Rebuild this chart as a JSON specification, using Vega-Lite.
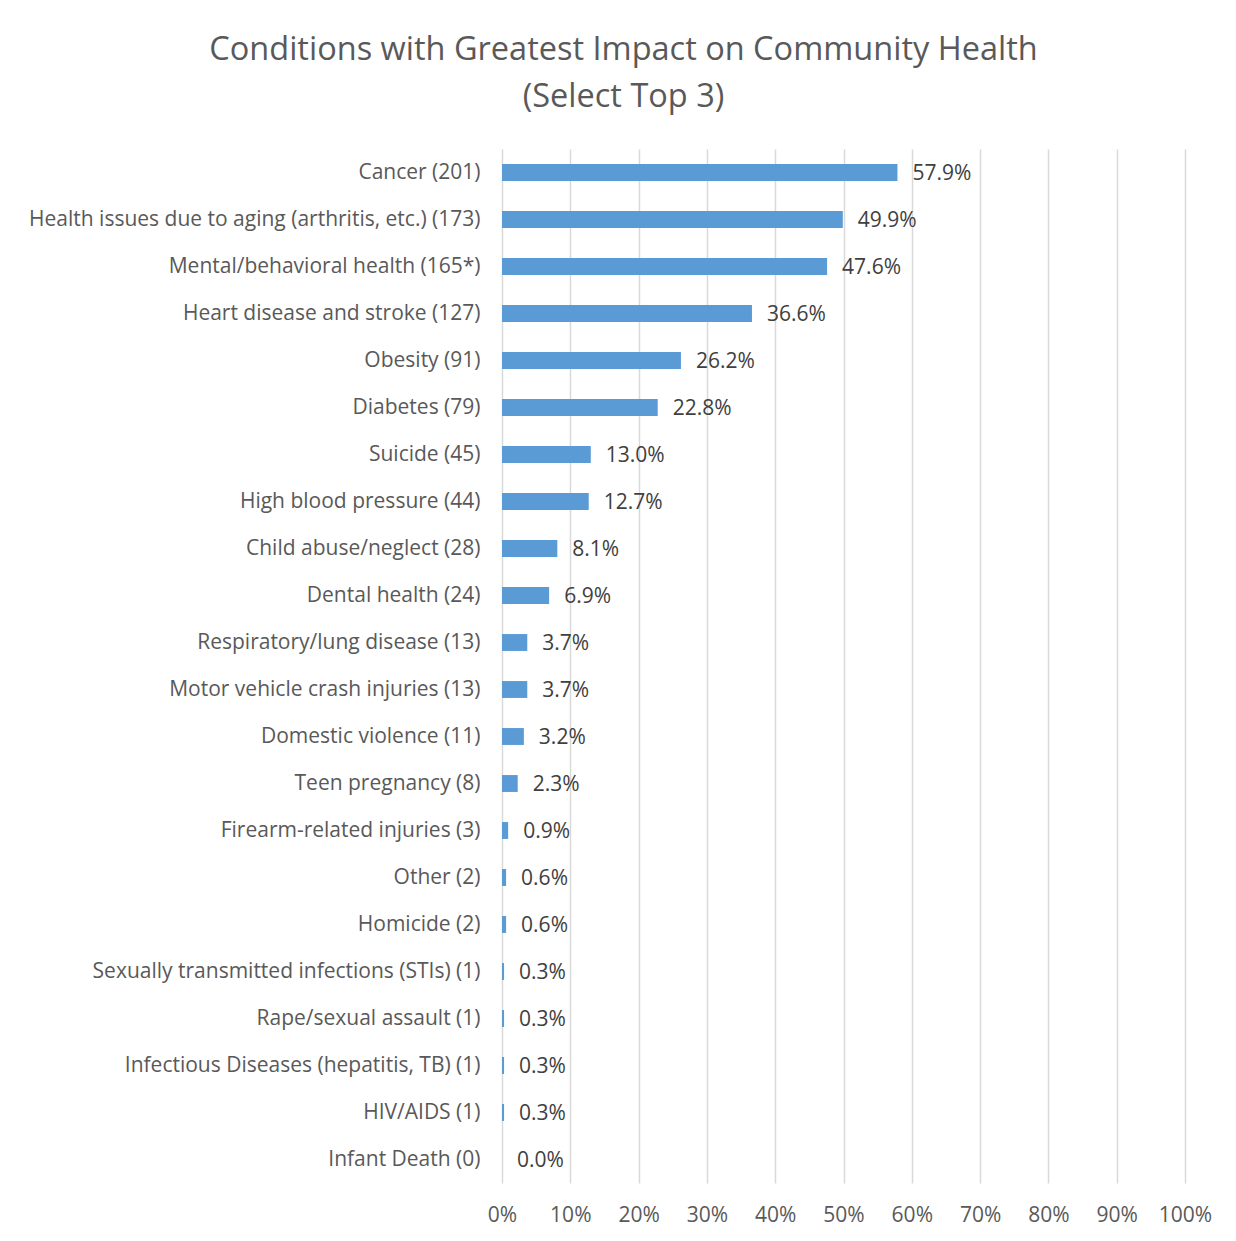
{
  "$schema": "https://vega.github.io/schema/vega-lite/v6.json",
  "autosize": "none",
  "width": 683,
  "height": 1034,
  "padding": {"left": 502, "top": 149, "right": 51, "bottom": 58},
  "background": "white",
  "title": {
    "text": ["Conditions with Greatest Impact on Community Health", "(Select Top 3)"],
    "anchor": "middle",
    "dx": -220,
    "offset": 36,
    "font": "Open Sans",
    "fontSize": 32.5,
    "fontWeight": "normal",
    "color": "#595959",
    "lineHeight": 47
  },
  "data": {
    "values": [
      {"rank": 1, "label": "Cancer (201)", "pct": 0.579},
      {"rank": 2, "label": "Health issues due to aging (arthritis, etc.) (173)", "pct": 0.499},
      {"rank": 3, "label": "Mental/behavioral health (165*)", "pct": 0.476},
      {"rank": 4, "label": "Heart disease and stroke (127)", "pct": 0.366},
      {"rank": 5, "label": "Obesity (91)", "pct": 0.262},
      {"rank": 6, "label": "Diabetes (79)", "pct": 0.228},
      {"rank": 7, "label": "Suicide (45)", "pct": 0.130},
      {"rank": 8, "label": "High blood pressure (44)", "pct": 0.127},
      {"rank": 9, "label": "Child abuse/neglect (28)", "pct": 0.081},
      {"rank": 10, "label": "Dental health (24)", "pct": 0.069},
      {"rank": 11, "label": "Respiratory/lung disease (13)", "pct": 0.037},
      {"rank": 12, "label": "Motor vehicle crash injuries (13)", "pct": 0.037},
      {"rank": 13, "label": "Domestic violence (11)", "pct": 0.032},
      {"rank": 14, "label": "Teen pregnancy (8)", "pct": 0.023},
      {"rank": 15, "label": "Firearm-related injuries (3)", "pct": 0.009},
      {"rank": 16, "label": "Other (2)", "pct": 0.006},
      {"rank": 17, "label": "Homicide (2)", "pct": 0.006},
      {"rank": 18, "label": "Sexually transmitted infections (STIs) (1)", "pct": 0.003},
      {"rank": 19, "label": "Rape/sexual assault (1)", "pct": 0.003},
      {"rank": 20, "label": "Infectious Diseases (hepatitis, TB) (1)", "pct": 0.003},
      {"rank": 21, "label": "HIV/AIDS (1)", "pct": 0.003},
      {"rank": 22, "label": "Infant Death (0)", "pct": 0.0}
    ]
  },
  "encoding": {
    "y": {
      "field": "label",
      "type": "nominal",
      "sort": {"field": "rank", "order": "ascending"},
      "scale": {"paddingInner": 0.64, "paddingOuter": 0.32},
      "axis": {
        "title": null,
        "domain": false,
        "ticks": false,
        "labelPadding": 22,
        "labelLimit": 600,
        "labelFont": "Open Sans",
        "labelFontSize": 21,
        "labelColor": "#595959"
      }
    },
    "x": {
      "field": "pct",
      "type": "quantitative",
      "scale": {"domain": [0, 1], "nice": false},
      "axis": {
        "title": null,
        "format": ".0%",
        "values": [0, 0.1, 0.2, 0.3, 0.4, 0.5, 0.6, 0.7, 0.8, 0.9, 1.0],
        "domain": false,
        "ticks": false,
        "grid": true,
        "gridColor": "#D9D9D9",
        "gridWidth": 1.5,
        "labelFlush": false,
        "labelPadding": 21,
        "labelFont": "Open Sans",
        "labelFontSize": 21,
        "labelColor": "#595959"
      }
    }
  },
  "layer": [
    {"mark": {"type": "bar", "color": "#5B9BD5"}},
    {
      "mark": {"type": "text", "align": "left", "baseline": "middle", "dx": 15, "dy": 1, "font": "Open Sans", "fontSize": 21, "color": "#404040"},
      "encoding": {"text": {"field": "pct", "type": "quantitative", "format": ".1%"}}
    }
  ],
  "config": {"view": {"stroke": null}}
}
